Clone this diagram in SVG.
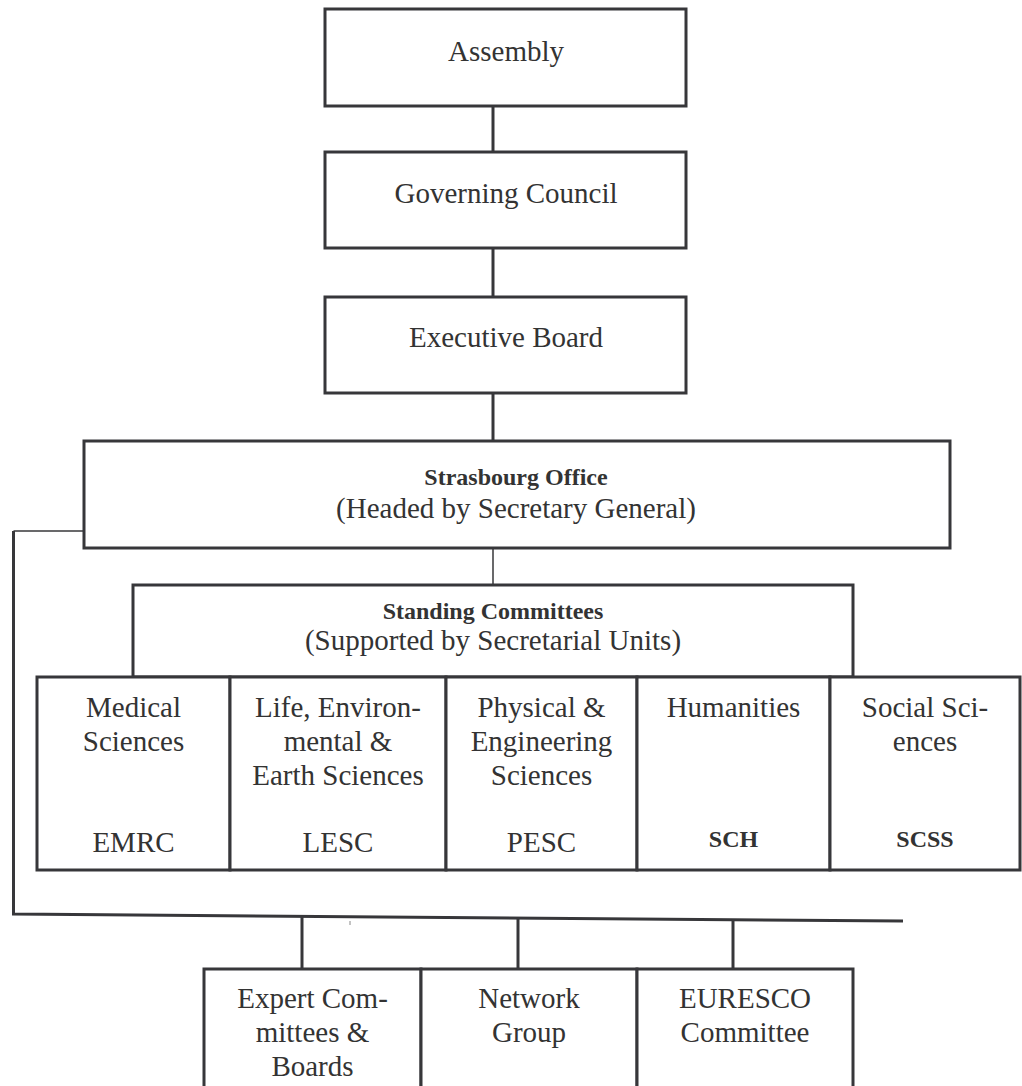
<svg xmlns="http://www.w3.org/2000/svg" width="1022" height="1086" viewBox="0 0 1022 1086">
<style>
.box{fill:#fff;stroke:#37373a;stroke-width:3}
.c{stroke:#37373a;stroke-width:3;fill:none}
.thin{stroke:#37373a;stroke-width:1.5;fill:none}
text{font-family:"Liberation Serif","Times New Roman",serif;fill:#333;text-anchor:middle}
.t{font-size:29px}
.b{font-size:24px;font-weight:bold}
</style>
<rect width="1022" height="1086" fill="#fff"/>
<g id="connectors">
<line class="c" x1="493" y1="106" x2="493" y2="152"/>
<line class="c" x1="493" y1="248" x2="493" y2="297"/>
<line class="c" x1="493" y1="393" x2="493" y2="441"/>
<line class="thin" x1="493" y1="548" x2="493" y2="585"/>
<polyline class="thin" points="84,531 13.5,531"/>
<polyline class="c" points="13.5,531 13.5,914 903,921"/>
<line x1="350" y1="921" x2="350" y2="925" stroke="#888" stroke-width="1"/>
<line class="c" x1="302" y1="916" x2="302" y2="969"/>
<line class="c" x1="518" y1="918" x2="518" y2="969"/>
<line class="c" x1="733" y1="919" x2="733" y2="969"/>
</g>
<g id="assembly"><rect class="box" x="325" y="9" width="361" height="97"/><text class="t" x="506" y="61">Assembly</text></g>
<g id="governing-council"><rect class="box" x="325" y="152" width="361" height="96"/><text class="t" x="506" y="203">Governing Council</text></g>
<g id="executive-board"><rect class="box" x="325" y="297" width="361" height="96"/><text class="t" x="506" y="347">Executive Board</text></g>
<g id="strasbourg-office"><rect class="box" x="84" y="441" width="866" height="107"/><text class="b" x="516" y="485">Strasbourg Office</text><text class="t" x="516" y="518">(Headed by Secretary General)</text></g>
<g id="standing-committees"><rect class="box" x="133" y="585" width="720" height="92"/><text class="b" x="493" y="619">Standing Committees</text><text class="t" x="493" y="650">(Supported by Secretarial Units)</text></g>
<g id="emrc"><rect class="box" x="37" y="677" width="193" height="193"/><text class="t" x="133.5" y="717">Medical</text><text class="t" x="133.5" y="751">Sciences</text><text class="t" x="133.5" y="852">EMRC</text></g>
<g id="lesc"><rect class="box" x="230" y="677" width="216" height="193"/><text class="t" x="338" y="717">Life, Environ-</text><text class="t" x="338" y="751">mental &amp;</text><text class="t" x="338" y="785">Earth Sciences</text><text class="t" x="338" y="852">LESC</text></g>
<g id="pesc"><rect class="box" x="446" y="677" width="191" height="193"/><text class="t" x="541.5" y="717">Physical &amp;</text><text class="t" x="541.5" y="751">Engineering</text><text class="t" x="541.5" y="785">Sciences</text><text class="t" x="541.5" y="852">PESC</text></g>
<g id="sch"><rect class="box" x="637" y="677" width="193" height="193"/><text class="t" x="733.5" y="717">Humanities</text><text class="b" x="733.5" y="847">SCH</text></g>
<g id="scss"><rect class="box" x="830" y="677" width="190" height="193"/><text class="t" x="925" y="717">Social Sci-</text><text class="t" x="925" y="751">ences</text><text class="b" x="925" y="847">SCSS</text></g>
<g id="expert-committees"><rect class="box" x="204" y="969" width="217" height="130"/><text class="t" x="312.5" y="1008">Expert Com-</text><text class="t" x="312.5" y="1042">mittees &amp;</text><text class="t" x="312.5" y="1076">Boards</text></g>
<g id="network-group"><rect class="box" x="421" y="969" width="216" height="130"/><text class="t" x="529" y="1008">Network</text><text class="t" x="529" y="1042">Group</text></g>
<g id="euresco"><rect class="box" x="637" y="969" width="216" height="130"/><text class="t" x="745" y="1008">EURESCO</text><text class="t" x="745" y="1042">Committee</text></g>
</svg>
